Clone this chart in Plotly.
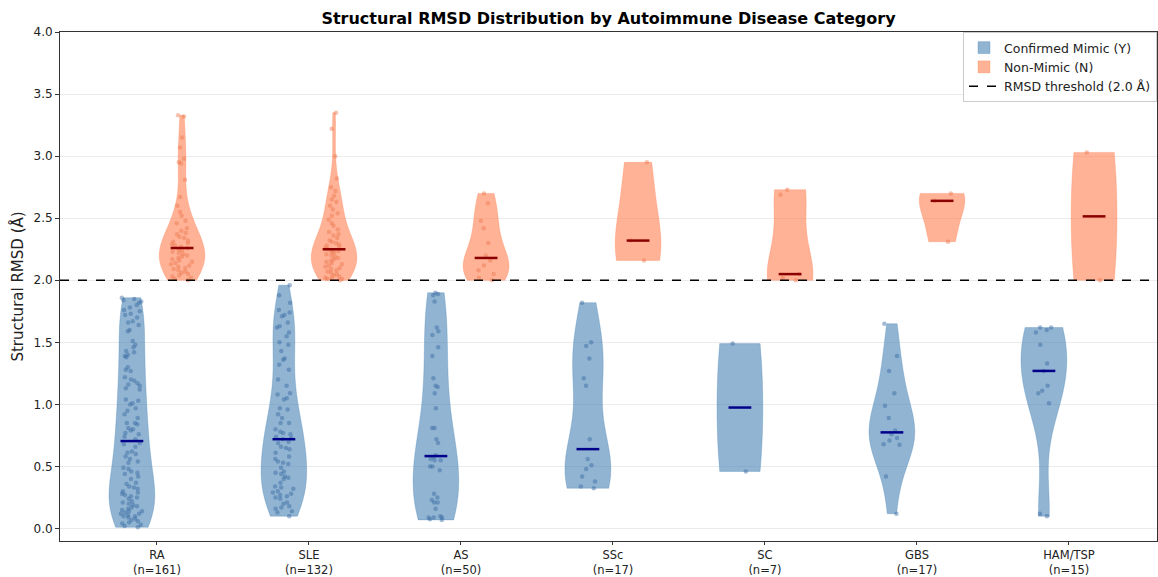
import numpy as np
import plotly.graph_objects as go

categories = ["RA", "SLE", "AS", "SSc", "SC", "GBS", "HAM/TSP"]

mimic = {
    "RA": [1.86, 1.85, 1.84, 1.83, 1.82, 1.80, 1.78, 1.76, 1.75, 1.73, 1.72, 1.70, 1.67, 1.66, 1.64,
           1.60, 1.59, 1.51, 1.48, 1.46, 1.43, 1.42, 1.40, 1.39, 1.38, 1.30, 1.28, 1.27, 1.22, 1.20,
           1.19, 1.17, 1.16, 1.15, 1.13, 1.12, 1.04, 1.03, 1.01, 1.00, 0.97,
           0.95, 0.92, 0.89, 0.85, 0.85, 0.84, 0.81, 0.80, 0.79, 0.77, 0.76, 0.74, 0.72,
           0.69, 0.68, 0.66, 0.62, 0.61, 0.60, 0.58, 0.56, 0.54, 0.53, 0.49, 0.48, 0.46, 0.45,
           0.44, 0.42, 0.40, 0.37, 0.36, 0.34, 0.33, 0.32, 0.30, 0.29, 0.28, 0.26, 0.25, 0.24,
           0.22, 0.21, 0.20, 0.19, 0.18, 0.17, 0.16, 0.15, 0.14, 0.14, 0.13, 0.12, 0.11, 0.10,
           0.10, 0.09, 0.08, 0.07, 0.06, 0.05, 0.04, 0.03, 0.02, 0.01, 0.12, 0.27],
    "SLE": [1.96, 1.88, 1.82, 1.76, 1.74, 1.72, 1.71, 1.66, 1.63, 1.62, 1.58, 1.55, 1.50, 1.48,
            1.43, 1.37, 1.36, 1.32, 1.28, 1.20, 1.15, 1.09, 1.08, 1.05, 1.04, 0.97, 0.96, 0.92,
            0.89, 0.85, 0.85, 0.80, 0.78, 0.77, 0.76, 0.74, 0.73,
            0.72,
            0.70, 0.69, 0.66, 0.65, 0.64, 0.61, 0.58, 0.56, 0.54, 0.53, 0.52, 0.49, 0.46, 0.45,
            0.44, 0.42, 0.41, 0.40, 0.37, 0.34, 0.33, 0.32, 0.30, 0.29, 0.28, 0.27, 0.26, 0.25,
            0.24, 0.21, 0.20, 0.18, 0.17, 0.16, 0.14, 0.13, 0.10],
    "AS": [1.90, 1.89, 1.88, 1.83, 1.62, 1.59, 1.56, 1.46, 1.39, 1.21, 1.15, 1.14, 1.09, 0.97,
           0.81, 0.81, 0.72, 0.69, 0.59, 0.578, 0.56, 0.55, 0.55, 0.50, 0.50, 0.47, 0.28, 0.25,
           0.23, 0.21, 0.21, 0.16, 0.10, 0.09, 0.09, 0.09, 0.075, 0.07],
    "SSc": [1.82, 1.50, 1.47, 1.37, 1.21, 1.15, 0.72, 0.56, 0.51, 0.48, 0.42, 0.38, 0.34, 0.325],
    "SC": [1.49, 0.46],
    "GBS": [1.65, 1.39, 1.27, 1.09, 0.99, 0.89, 0.79, 0.76, 0.73, 0.71, 0.68, 0.675, 0.42, 0.12],
    "HAM/TSP": [1.62, 1.62, 1.60, 1.58, 1.48, 1.33, 1.27, 1.15, 1.11, 1.09, 1.01, 0.12, 0.10],
}

non_mimic = {
    "RA": [3.33, 3.32, 3.15, 3.07, 2.98, 2.95, 2.94, 2.81, 2.67, 2.60, 2.55, 2.52, 2.48, 2.46,
           2.42, 2.40, 2.38, 2.37, 2.35, 2.34, 2.32, 2.31, 2.30, 2.29, 2.28, 2.27,
           2.26,
           2.25, 2.24, 2.23, 2.22, 2.21, 2.20, 2.19, 2.18, 2.17, 2.16, 2.15, 2.14, 2.13, 2.12,
           2.11, 2.10, 2.09, 2.08, 2.07, 2.06, 2.05, 2.04, 2.03, 2.02, 2.01, 2.00],
    "SLE": [3.35, 3.22, 3.00, 2.82, 2.75, 2.72, 2.68, 2.65, 2.63, 2.60, 2.57, 2.54, 2.52, 2.49,
            2.46, 2.44, 2.41, 2.39, 2.37, 2.36, 2.34, 2.32, 2.31, 2.30, 2.29, 2.28, 2.27, 2.26,
            2.25,
            2.24, 2.235, 2.23, 2.22, 2.21, 2.20, 2.19, 2.18, 2.17, 2.16, 2.15, 2.14, 2.13, 2.12,
            2.11, 2.10, 2.09, 2.08, 2.07, 2.06, 2.05, 2.04, 2.03, 2.02, 2.02, 2.01, 2.01, 2.00],
    "AS": [2.70, 2.62, 2.48, 2.42, 2.30, 2.20, 2.16, 2.12, 2.08, 2.05, 2.02, 2.00],
    "SSc": [2.95, 2.32, 2.16],
    "SC": [2.73, 2.69, 2.05, 2.02, 2.00],
    "GBS": [2.70, 2.64, 2.31],
    "HAM/TSP": [3.03, 2.00],
}

threshold = 2.0

BLUE_FILL = "rgba(70,130,180,0.6)"
BLUE_PT = "rgba(55,105,160,0.45)"
ORANGE_FILL = "rgba(255,127,80,0.6)"
ORANGE_PT = "rgba(235,120,80,0.45)"
FONT = "DejaVu Sans"

offset = 0.165
vwidth = 0.30

fig = go.Figure()


def scott_bw(vals):
    v = np.asarray(vals, float)
    if len(v) < 2:
        return None
    return float(np.std(v, ddof=1) * len(v) ** (-0.2))


def add_group(data, sign, fill, pt, name, med_color):
    mx, my = [], []
    for i, cat in enumerate(categories):
        vals = data[cat]
        pos = i + sign * offset
        fig.add_trace(go.Violin(
            x0=pos, y=vals, name=name, legendgroup=name, showlegend=(i == 0),
            width=vwidth, scalemode="width", spanmode="hard",
            bandwidth=scott_bw(vals),
            fillcolor=fill, line=dict(color=fill, width=0.5),
            points="all", pointpos=0, jitter=0.5,
            marker=dict(color=pt, size=4.5, line=dict(width=0)),
            box_visible=False, meanline_visible=False, hoverinfo="y",
        ))
        m = float(np.median(vals))
        mx += [pos - vwidth / 4, pos + vwidth / 4, None]
        my += [m, m, None]
    fig.add_trace(go.Scatter(x=mx, y=my, mode="lines", line=dict(color=med_color, width=2.5),
                             showlegend=False, hoverinfo="skip"))


add_group(mimic, -1, BLUE_FILL, BLUE_PT, "Confirmed Mimic (Y)", "#00008B")
add_group(non_mimic, +1, ORANGE_FILL, ORANGE_PT, "Non-Mimic (N)", "#8B0000")

fig.add_hline(y=threshold, line=dict(color="black", dash="dash", width=1.5))
fig.add_trace(go.Scatter(x=[None], y=[None], mode="lines",
                         line=dict(color="black", dash="dash", width=1.5),
                         name="RMSD threshold (2.0 Å)"))

ticktext = [f"{c}<br>(n={len(mimic[c]) + len(non_mimic[c])})" for c in categories]

fig.update_layout(
    width=1158, height=577,
    margin=dict(l=60, r=1, t=32, b=36),
    paper_bgcolor="white", plot_bgcolor="white",
    font=dict(family=FONT, size=12, color="#222"),
    violinmode="overlay",
    title=dict(text="<b>Structural RMSD Distribution by Autoimmune Disease Category</b>",
               x=(60 + 1157) / 2 / 1158, xanchor="center", y=1 - 18 / 577, yanchor="middle",
               yref="container", font=dict(size=16, color="black", family=FONT)),
    legend=dict(x=1, y=1, xanchor="right", yanchor="top", bgcolor="rgba(255,255,255,0.9)",
                bordercolor="#cccccc", borderwidth=1, font=dict(size=12.5, color="#222"),
                tracegroupgap=0, itemwidth=30),
    xaxis=dict(range=[-0.638, 6.579], tickmode="array", tickvals=list(range(len(categories))),
               ticktext=ticktext, showgrid=False, zeroline=False, showline=True, linecolor="#333",
               linewidth=1, mirror=True, ticks="outside", ticklen=3, tickcolor="#333",
               tickfont=dict(size=11.5), automargin=False),
    yaxis=dict(range=[-0.1, 4.0], tickmode="array", tickvals=[0, 0.5, 1, 1.5, 2, 2.5, 3, 3.5, 4],
               ticktext=["0.0", "0.5", "1.0", "1.5", "2.0", "2.5", "3.0", "3.5", "4.0"],
               showgrid=True, gridcolor="#ebebeb", gridwidth=1, zeroline=False, showline=True,
               linecolor="#333", linewidth=1, mirror=True, ticks="outside", ticklen=4,
               tickcolor="#333", tickfont=dict(size=12), automargin=False,
               title=dict(text="Structural RMSD (Å)", font=dict(size=15, color="#222"), standoff=6)),
)

fig.write_html("out.html")
